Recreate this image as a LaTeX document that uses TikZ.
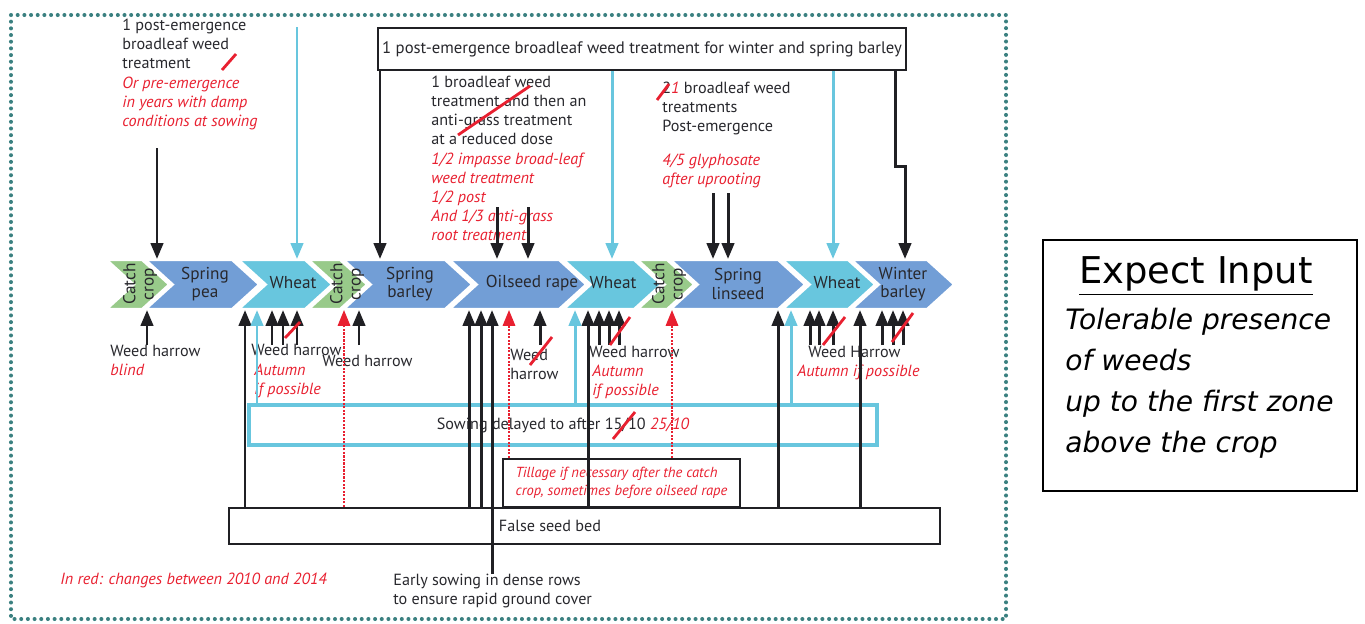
\documentclass[tikz,border=0pt]{standalone}
\usepackage{fontspec}
\setmainfont{PT Sans}
\newfontfamily\cajafont{DejaVu Sans}
\usepackage{xcolor}
\usepackage{tikz}
\usetikzlibrary{arrows.meta}
\definecolor{AzulCultivo}{RGB}{114,158,214}
\definecolor{CianTrigo}{RGB}{104,198,222}
\definecolor{VerdeCubierta}{RGB}{152,202,138}
\definecolor{RojoCambio}{RGB}{232,32,48}
\definecolor{TealBorde}{RGB}{58,128,128}
\definecolor{GrisTexto}{RGB}{40,40,45}
\tikzset{
  texto/.style={anchor=north west, align=left, inner sep=0pt, text=GrisTexto, font=\fontsize{9.2}{10.8}\selectfont},
  cambio/.style={texto, text=RojoCambio, font=\fontsize{9.2}{10.8}\selectfont\itshape},
  cultivo/.style={align=center, inner sep=0pt, text=GrisTexto, font=\fontsize{9.8}{10.4}\selectfont},
  cubierta/.style={cultivo, rotate=90},
  caja/.style={draw=GrisTexto!80!black, line width=1.5pt, inner sep=0pt, text=GrisTexto, font=\fontsize{9.2}{10.8}\selectfont},
  cajacian/.style={caja, draw=CianTrigo, line width=1.8pt},
  flecha/.style={-{Triangle[length=9pt,width=7pt]}, line width=1.7pt, GrisTexto!80!black},
  flechacian/.style={flecha, CianTrigo},
  flecharoja/.style={flecha, RojoCambio, line width=1.2pt, dash pattern=on 1.2pt off 0.8pt},
  tachado/.style={RojoCambio, line width=1.6pt},
  borde/.style={TealBorde, line width=2.3pt, line cap=round, dash pattern=on 0pt off 3.8pt}
}

\begin{document}
\begin{tikzpicture}[x=0.02cm,y=-0.02cm]
  \useasboundingbox (0,0) rectangle (1365,623);
  \draw[borde] (11,15) rectangle (1006,619);

  \foreach \xl/\xr/\col in {107/142/VerdeCubierta, 146/232/AzulCultivo, 239/305/CianTrigo,
      309/340/VerdeCubierta, 344/445/AzulCultivo, 450/559/AzulCultivo, 564/634/CianTrigo,
      638/667/VerdeCubierta, 671/778/AzulCultivo, 783/848/CianTrigo, 852/927/AzulCultivo}
    \filldraw[fill=\col, draw=white, line width=1.2pt] (\xl,260) -- (\xr,260) -- (\xr+27,284.5)
      -- (\xr,309) -- (\xl,309) -- (\xl+27,284.5) -- cycle;

  \node[cubierta] (cc1) at (140,284) {Catch\\crop};
  \node[cultivo] (pea) at (205,284) {Spring\\pea};
  \node[cultivo] (wheat1) at (293,283) {Wheat};
  \node[cubierta] (cc2) at (347,284) {Catch\\crop};
  \node[cultivo] (sbarley) at (410,284) {Spring\\barley};
  \node[cultivo] (rape) at (532,283) {Oilseed rape};
  \node[cultivo] (wheat2) at (613,283) {Wheat};
  \node[cubierta] (cc3) at (669,284) {Catch\\crop};
  \node[cultivo] (linseed) at (738,284) {Spring\\linseed};
  \node[cultivo] (wheat3) at (837,283) {Wheat};
  \node[cultivo] (wbarley) at (903,284) {Winter\\barley};
  \coordinate (bandN) at (0,259);
  \coordinate (bandS) at (0,310);

  \node[caja, font=\fontsize{9.5}{11}\selectfont, minimum width=10.56cm, minimum height=0.84cm] (tbox) at (642,49)
    {1 post-emergence broadleaf weed treatment for winter and spring barley};
  \draw[flecha] (tbox.south -| 380,0) -- (bandN -| 380,0);
  \draw[flechacian] (tbox.south -| 612,0) -- (bandN -| 612,0);
  \draw[flechacian] (tbox.south -| 833,0) -- (bandN -| 833,0);
  \draw[flecha] (tbox.south -| 895,0) -- (895,166) -- (905,166) -- (bandN -| 905,0);

  \node[texto] (trat1) at (122,19) {1 post-emergence\\broadleaf weed\\treatment};
  \node[cambio] (trat1r) at (122,77) {Or pre-emergence\\in years with damp\\conditions at sowing};
  \coordinate (a1) at (157,148);
  \draw[flecha] (a1) -- (bandN -| a1);
  \coordinate (c1) at (297,27);
  \draw[flechacian] (c1) -- (bandN -| c1);

  \node[texto] (trat2) at (431,76) {1 broadleaf weed\\treatment and then an\\anti-grass treatment\\at a reduced dose};
  \node[cambio] (trat2r) at (431,153) {1/2 impasse broad-leaf\\weed treatment\\1/2 post\\And 1/3 anti-grass\\root treatment};
  \coordinate (m1) at (0,207);
  \foreach \x in {497,528} \draw[flecha] (m1 -| \x,0) -- (bandN -| \x,0);

  \node[texto] (trat3) at (662,82) {2{\color{RojoCambio}\itshape 1} broadleaf weed\\treatments\\Post-emergence};
  \node[cambio] (trat3r) at (662,154) {4/5 glyphosate\\after uprooting};
  \coordinate (m2) at (0,193);
  \foreach \x in {713,728} \draw[flecha] (m2 -| \x,0) -- (bandN -| \x,0);

  \node[texto] (wh1) at (110,345) {Weed harrow};
  \node[cambio] (wh1r) at (110,364) {blind};
  \node[texto] (wh2) at (251,344) {Weed harrow};
  \node[cambio] (wh2r) at (254,364) {Autumn\\if possible};
  \node[texto] (wh3) at (322,355) {Weed harrow};
  \node[texto] (wh4) at (510,349) {Weed\\harrow};
  \node[texto] (wh5) at (589,346) {Weed harrow};
  \node[cambio] (wh5r) at (592,365) {Autumn\\if possible};
  \node[texto] (wh6) at (808,346) {Weed Harrow};
  \node[cambio] (wh6r) at (797,365) {Autumn if possible};
  \coordinate (pie) at (0,345);
  \foreach \x in {147,272,283,297,359,540,599,609,619,810,819,833,882,893,903}
    \draw[flecha] (pie -| \x,0) -- (bandS -| \x,0);

  \node[cajacian, minimum width=12.56cm, minimum height=0.8cm] (sow) at (563,425)
    {Sowing delayed to after 15/10 {\color{RojoCambio}\itshape 25/10}};
  \node[caja, text=RojoCambio, align=left, font=\fontsize{8.3}{10.2}\selectfont\itshape,
    minimum width=4.74cm, minimum height=0.96cm] (till) at (621.5,483)
    {Tillage if necessary after the catch\\crop, sometimes before oilseed rape};
  \node[caja, minimum width=14.22cm, minimum height=0.72cm] (fsb) at (584.5,526) {};
  \node[texto, anchor=center] (fsbtxt) at (550,526) {False seed bed};
  \node[texto] (esow) at (393,574) {Early sowing in dense rows\\to ensure rapid ground cover};

  \foreach \x in {245,469,481,588,778,860}
    \draw[flecha] (fsb.north -| \x,0) -- (bandS -| \x,0);
  \draw[flecha] (esow.north -| 492,0) -- (bandS -| 492,0);
  \foreach \x in {257,575,791}
    \draw[flechacian] (sow.north -| \x,0) -- (bandS -| \x,0);
  \draw[flecharoja] (fsb.north -| 344,0) -- (bandS -| 344,0);
  \foreach \x in {509,672}
    \draw[flecharoja] (till.north -| \x,0) -- (bandS -| \x,0);

  \draw[tachado] (222,70) -- (236,54);
  \draw[tachado] (458,135) -- (530,86);
  \draw[tachado] (657,100) -- (669,84);
  \draw[tachado] (285,338) -- (300,322);
  \draw[tachado] (530,365) -- (552,337);
  \draw[tachado] (610,345) -- (630,317);
  \draw[tachado] (823,345) -- (845,317);
  \draw[tachado] (892,342) -- (913,313);
  \draw[tachado] (613,439) -- (635,412);

  \node[cambio, anchor=west] (leyenda) at (60,580) {In red: changes between 2010 and 2014};

  \node[draw=black, line width=0.8pt, minimum width=6.28cm, minimum height=5.02cm] (expect) at (1200,365.5) {};
  \node[font=\cajafont\fontsize{21}{25}\selectfont, inner sep=0pt] (titulo) at (1196,276) {\underline{Expect Input}};
  \node[font=\cajafont\itshape\fontsize{16}{23.2}\selectfont, align=left, anchor=north west, inner sep=0pt]
    (tolera) at (1065,308) {Tolerable presence\\of weeds\\up to the first zone\\above the crop};
\end{tikzpicture}
\end{document}
